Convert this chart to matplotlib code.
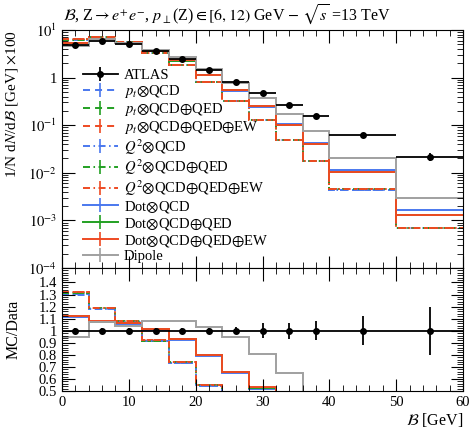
import numpy as np
import matplotlib
matplotlib.use("Agg")
import matplotlib.pyplot as plt
from matplotlib.lines import Line2D
from matplotlib.ticker import MultipleLocator, FixedLocator, FuncFormatter, LogLocator, NullFormatter

plt.rcParams['font.family'] = ['Liberation Serif', 'DejaVu Serif']
plt.rcParams['mathtext.fontset'] = 'stix'

# ---------------- data ----------------
edges = [0, 4, 8, 12, 16, 20, 24, 28, 32, 36, 40, 50, 60]
atlas = [4.8, 5.96, 5.1, 3.6, 2.45, 1.45, 0.82, 0.47, 0.266, 0.156, 0.062, 0.022]
atlas_relerr = [0.02, 0.02, 0.02, 0.02, 0.02, 0.025, 0.03, 0.06, 0.065, 0.08, 0.12, 0.2]

pt_qcd       = [6.28, 7.05, 5.48, 3.29, 1.80, 0.79, 0.324, 0.127, 0.048, 0.0175, 0.0044, 0.00068]
pt_qcd_qed   = [6.32, 7.08, 5.50, 3.30, 1.81, 0.80, 0.326, 0.128, 0.049, 0.0177, 0.0045, 0.00069]
pt_qcd_qed_ew= [6.34, 7.09, 5.51, 3.31, 1.81, 0.80, 0.327, 0.129, 0.049, 0.0178, 0.0045, 0.00069]
q2_qcd       = [6.24, 7.04, 5.47, 3.29, 1.80, 0.79, 0.325, 0.128, 0.048, 0.0176, 0.0044, 0.00068]
q2_qcd_qed   = [6.31, 7.07, 5.50, 3.30, 1.81, 0.80, 0.326, 0.128, 0.049, 0.0177, 0.0045, 0.00069]
q2_qcd_qed_ew= [6.34, 7.10, 5.51, 3.31, 1.81, 0.80, 0.327, 0.129, 0.049, 0.0178, 0.0045, 0.00069]
dot_qcd       = [5.35, 6.38, 5.40, 3.62, 2.27, 1.15, 0.535, 0.243, 0.104, 0.042, 0.0113, 0.00166]
dot_qcd_qed   = [5.39, 6.41, 5.42, 3.64, 2.28, 1.16, 0.540, 0.248, 0.100, 0.040, 0.0104, 0.00130]
dot_qcd_qed_ew= [5.40, 6.42, 5.43, 3.65, 2.29, 1.16, 0.541, 0.249, 0.101, 0.040, 0.0105, 0.00130]
dipole       = [4.54, 6.38, 5.28, 3.89, 2.65, 1.49, 0.775, 0.381, 0.173, 0.077, 0.020, 0.0029]

labels = [r'$p_t{\otimes}$QCD', r'$p_t{\otimes}$QCD${\oplus}$QED', r'$p_t{\otimes}$QCD${\oplus}$QED${\oplus}$EW',
          r'$Q^2{\otimes}$QCD', r'$Q^2{\otimes}$QCD${\oplus}$QED', r'$Q^2{\otimes}$QCD${\oplus}$QED${\oplus}$EW',
          r'Dot${\otimes}$QCD', r'Dot${\otimes}$QCD${\oplus}$QED', r'Dot${\otimes}$QCD${\oplus}$QED${\oplus}$EW',
          'Dipole']
series = [pt_qcd, pt_qcd_qed, pt_qcd_qed_ew, q2_qcd, q2_qcd_qed, q2_qcd_qed_ew,
          dot_qcd, dot_qcd_qed, dot_qcd_qed_ew, dipole]

# ---------------- styles ----------------
blue, green, red, grey = '#4a78ee', '#22a022', '#ee4a22', '#a0a0a0'
dash = (0, (3.6, 2.6))
dashdot = (0, (3.6, 1.8, 0.8, 1.8))
styles = [(blue, dash), (green, dash), (red, dash),
          (blue, dashdot), (green, dashdot), (red, dashdot),
          (blue, '-'), (green, '-'), (red, '-'), (grey, '-')]

edges_a = np.array(edges, float)
centers = 0.5 * (edges_a[1:] + edges_a[:-1])
halfw = 0.5 * (edges_a[1:] - edges_a[:-1])
atlas_a = np.array(atlas)
err_a = atlas_a * np.array(atlas_relerr)

W, H = 473, 428
fig = plt.figure(figsize=(W / 100, H / 100), dpi=100)
left = 62 / W
width = (463 - 62) / W
ax1 = fig.add_axes([left, 1 - 268 / H, width, (268 - 30) / H])
ax2 = fig.add_axes([left, 1 - 391 / H, width, (391 - 268) / H], sharex=ax1)

lw = 1.4
for vals, (c, ls) in zip(series, styles):
    v = np.array(vals)
    ax1.stairs(v, edges_a, color=c, ls=ls, lw=lw, baseline=None)
    ax2.stairs(v / atlas_a, edges_a, color=c, ls=ls, lw=lw, baseline=None)

ax1.errorbar(centers, atlas_a, xerr=halfw, yerr=err_a, fmt='o', color='black',
             ms=4, lw=1.3, capsize=0, zorder=10)
ax2.errorbar(centers, np.ones_like(centers), xerr=halfw, yerr=np.array(atlas_relerr),
             fmt='o', color='black', ms=4, lw=1.3, capsize=0, zorder=10)

ax1.set_yscale('log')
ax1.set_ylim(1e-4, 10)
ax1.set_xlim(0, 60)
ax2.set_ylim(0.5, 1.52)


def logfmt(v, pos):
    e = int(round(np.log10(v)))
    if e == 0:
        return '1'
    return r'$10^{%d}$' % e


ax1.yaxis.set_major_locator(LogLocator(base=10, numticks=10))
ax1.yaxis.set_major_formatter(FuncFormatter(logfmt))
ax1.yaxis.set_minor_locator(LogLocator(base=10, subs=np.arange(2, 10), numticks=20))
ax1.yaxis.set_minor_formatter(NullFormatter())

for ax in (ax1, ax2):
    ax.xaxis.set_major_locator(MultipleLocator(10))
    ax.xaxis.set_minor_locator(MultipleLocator(2))
    ax.tick_params(which='both', direction='in', top=True, right=True, labelsize=10.5)
    ax.tick_params(which='major', length=9, width=0.8)
    ax.tick_params(which='minor', length=4.5, width=0.6)
plt.setp(ax1.get_xticklabels(), visible=False)

ax2.yaxis.set_major_locator(FixedLocator([0.5, 0.6, 0.7, 0.8, 0.9, 1.0, 1.1, 1.2, 1.3, 1.4]))
ax2.yaxis.set_minor_locator(MultipleLocator(0.02))
ax2.yaxis.set_major_formatter(FuncFormatter(lambda v, p: '1' if abs(v - 1) < 1e-9 else '%.1f' % v))

ax1.set_ylabel(r'1/N d$N$/d$\mathcal{B}$ [GeV] $\times$100', fontsize=11, ha='right')
ax1.yaxis.set_label_coords(-0.105, 1.0)
ax2.set_ylabel('MC/Data', fontsize=11.5)
ax2.yaxis.set_label_coords(-0.1, 0.5)
ax2.set_xlabel(r'$\mathcal{B}$ [GeV]', fontsize=11.5, ha='right', va='top')
ax2.xaxis.set_label_coords(1.0, -0.16)

fig.text(63 / W, 1 - 15 / H,
         r'$\mathcal{B}$, Z$\rightarrow e^{+}e^{-}$, $p_{\perp}$(Z)$\in[6,12)$ GeV $-$ $\sqrt{s}$ =13 TeV',
         fontsize=11.5, ha='left', va='center')

handles = [(Line2D([], [], color='black', lw=1.3, marker='o', ms=4),
            Line2D([], [], color='black', lw=0, marker='|', ms=10, mew=1.3))]
for c, ls in styles:
    handles.append((Line2D([], [], color=c, ls=ls, lw=lw),
                    Line2D([], [], color=c, lw=0, marker='|', ms=10, mew=1.2)))
ax1.legend(handles, ['ATLAS'] + labels, loc='upper left', bbox_to_anchor=(0.052, 0.8375),
           frameon=False, fontsize=10.5, handlelength=2.4, handletextpad=0.4,
           labelspacing=0.07, borderpad=0, borderaxespad=0)

fig.savefig('out.png', dpi=100)
